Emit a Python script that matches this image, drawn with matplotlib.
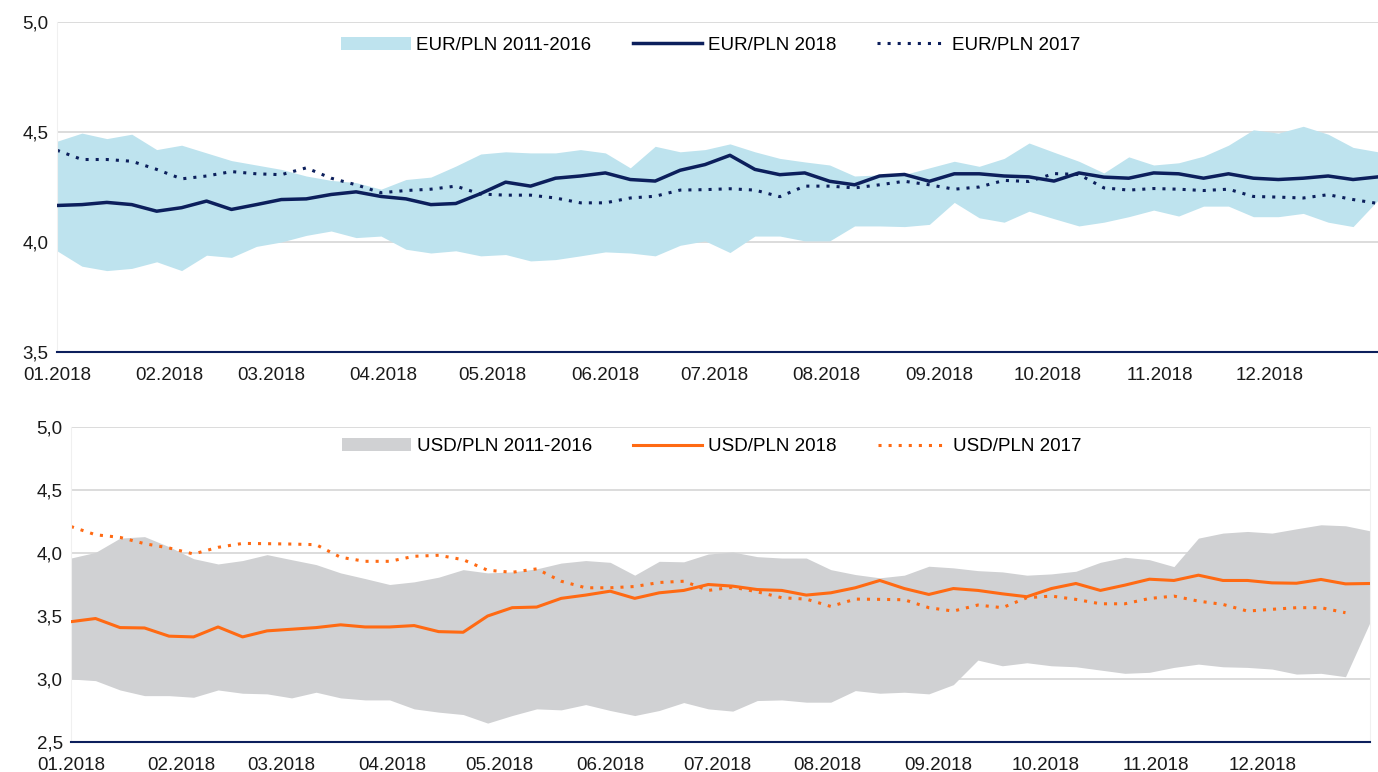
import numpy as np
import pandas as pd
import matplotlib
matplotlib.use("Agg")
import matplotlib.pyplot as plt
import matplotlib.dates as mdates
from matplotlib.ticker import FuncFormatter, MultipleLocator

plt.rcParams['font.family'] = ['Liberation Sans', 'DejaVu Sans']

# odczyty z wykresu, 54 punkty rownomiernie w roku 2018
eur_upper = [4.458, 4.495, 4.47, 4.49, 4.42, 4.44, 4.405, 4.37, 4.35, 4.33, 4.30, 4.28,
             4.27, 4.24, 4.284, 4.295, 4.345, 4.40, 4.41, 4.405, 4.405, 4.42, 4.405, 4.337, 4.435, 4.41,
             4.42, 4.446, 4.41, 4.38, 4.364, 4.35, 4.30, 4.305, 4.307, 4.337, 4.367, 4.344, 4.38, 4.45,
             4.408, 4.367, 4.314, 4.387, 4.35, 4.36, 4.39, 4.44, 4.51, 4.495, 4.526, 4.49, 4.43, 4.41]
eur_lower = [3.96, 3.89, 3.87, 3.88, 3.91, 3.87, 3.94, 3.93, 3.98, 4.00, 4.03, 4.05,
             4.02, 4.027, 3.967, 3.95, 3.96, 3.937, 3.943, 3.914, 3.92, 3.937, 3.955, 3.95, 3.937, 3.985,
             4.005, 3.952, 4.027, 4.027, 4.005, 4.005, 4.073, 4.073, 4.07, 4.08, 4.18, 4.11, 4.09, 4.14,
             4.106, 4.073, 4.09, 4.115, 4.145, 4.118, 4.163, 4.163, 4.115, 4.115, 4.13, 4.09, 4.07, 4.19]
eur_2018 = [4.166, 4.17, 4.18, 4.17, 4.14, 4.156, 4.186, 4.148, 4.17, 4.193, 4.196, 4.216,
            4.228, 4.207, 4.196, 4.17, 4.175, 4.22, 4.272, 4.254, 4.29, 4.30, 4.314, 4.284, 4.277, 4.326,
            4.352, 4.394, 4.33, 4.306, 4.314, 4.276, 4.26, 4.30, 4.307, 4.276, 4.31, 4.31, 4.30, 4.296,
            4.277, 4.314, 4.295, 4.29, 4.314, 4.31, 4.29, 4.31, 4.29, 4.284, 4.29, 4.30, 4.284, 4.296]
eur_2017 = [4.417, 4.375, 4.375, 4.367, 4.33, 4.287, 4.30, 4.32, 4.31, 4.306, 4.337, 4.29,
            4.26, 4.224, 4.234, 4.24, 4.254, 4.218, 4.213, 4.213, 4.20, 4.178, 4.178, 4.20, 4.208, 4.236,
            4.238, 4.242, 4.236, 4.206, 4.254, 4.254, 4.246, 4.26, 4.276, 4.26, 4.24, 4.25, 4.28, 4.275,
            4.311, 4.307, 4.246, 4.236, 4.243, 4.24, 4.234, 4.24, 4.207, 4.204, 4.20, 4.215, 4.193, 4.175]

usd_upper = [3.96, 4.005, 4.118, 4.13, 4.05, 3.955, 3.913, 3.94, 3.987, 3.947, 3.908, 3.842,
             3.797, 3.75, 3.771, 3.808, 3.868, 3.842, 3.85, 3.874, 3.92, 3.94, 3.926, 3.824, 3.934, 3.93,
             3.992, 4.008, 3.971, 3.96, 3.96, 3.868, 3.829, 3.803, 3.824, 3.895, 3.882, 3.86, 3.85, 3.824,
             3.834, 3.855, 3.926, 3.966, 3.947, 3.892, 4.118, 4.158, 4.171, 4.158, 4.192, 4.224, 4.216, 4.176]
usd_lower = [3.0, 2.987, 2.913, 2.868, 2.868, 2.855, 2.913, 2.887, 2.882, 2.85, 2.895, 2.85,
             2.834, 2.834, 2.763, 2.737, 2.718, 2.65, 2.71, 2.763, 2.755, 2.797, 2.75, 2.71, 2.75, 2.813,
             2.763, 2.745, 2.829, 2.834, 2.816, 2.816, 2.908, 2.887, 2.895, 2.882, 2.955, 3.15, 3.105, 3.129,
             3.105, 3.097, 3.071, 3.045, 3.053, 3.092, 3.118, 3.097, 3.092, 3.079, 3.039, 3.045, 3.018, 3.45]
usd_2018 = [3.455, 3.48, 3.408, 3.405, 3.34, 3.334, 3.413, 3.334, 3.382, 3.395, 3.408, 3.43,
            3.413, 3.413, 3.424, 3.376, 3.371, 3.50, 3.566, 3.571, 3.64, 3.666, 3.697, 3.64, 3.684, 3.703,
            3.75, 3.737, 3.71, 3.703, 3.666, 3.684, 3.724, 3.782, 3.718, 3.671, 3.718, 3.703, 3.676, 3.653,
            3.718, 3.758, 3.703, 3.745, 3.792, 3.782, 3.824, 3.782, 3.782, 3.763, 3.76, 3.79, 3.755, 3.758]
usd_2017 = [4.21, 4.145, 4.124, 4.074, 4.04, 3.992, 4.045, 4.076, 4.074, 4.071, 4.066, 3.966,
            3.934, 3.934, 3.974, 3.982, 3.947, 3.863, 3.847, 3.874, 3.776, 3.724, 3.724, 3.734, 3.766, 3.776,
            3.703, 3.729, 3.692, 3.645, 3.634, 3.576, 3.634, 3.632, 3.629, 3.566, 3.539, 3.587, 3.566, 3.645,
            3.658, 3.632, 3.597, 3.597, 3.639, 3.658, 3.618, 3.592, 3.539, 3.553, 3.566, 3.566, 3.526, np.nan]

dates = pd.date_range('2018-01-01', '2018-12-31', periods=len(eur_2018))

NAVY = '#0c1f5c'
ORANGE = '#ff6a13'
LIGHTBLUE = '#bee3ee'
GREY = '#d0d1d3'
GRID = '#d9d9d9'
FS = 13.5

fig = plt.figure(figsize=(13.78, 7.72), dpi=100)
ax1 = fig.add_axes([57/1378, 1-352/772, 1321/1378, 330/772])
ax2 = fig.add_axes([71/1378, 1-742/772, 1299/1378, 315/772])


def style(ax, lo, hi):
    ax.set_ylim(lo, hi)
    ax.set_xlim(pd.Timestamp('2018-01-01'), pd.Timestamp('2018-12-31'))
    ax.yaxis.set_major_locator(MultipleLocator(0.5))
    ax.yaxis.set_major_formatter(FuncFormatter(lambda v, p: f"{v:.1f}".replace('.', ',')))
    ax.xaxis.set_major_locator(mdates.MonthLocator())
    ax.xaxis.set_major_formatter(mdates.DateFormatter('%m.%Y'))
    ax.grid(axis='y', color=GRID, lw=1.3, zorder=0)
    ax.set_axisbelow(True)
    ax.tick_params(axis='x', length=0, pad=11, labelsize=FS, colors='#1a1a1a')
    ax.tick_params(axis='y', length=0, pad=6, labelsize=FS, colors='#1a1a1a')
    for s in ['top', 'right']:
        ax.spines[s].set_visible(False)
    ax.spines['left'].set_color('#f0f0f0')
    ax.spines['bottom'].set_color(NAVY)
    ax.spines['bottom'].set_linewidth(1.5)
    ax.spines['bottom'].set_zorder(5)


# EUR/PLN
ax1.fill_between(dates, eur_lower, eur_upper, color=LIGHTBLUE, lw=0, label='EUR/PLN 2011-2016', zorder=1)
ax1.plot(dates, eur_2018, color=NAVY, lw=2.5, label='EUR/PLN 2018', zorder=3)
ax1.plot(dates, eur_2017, color=NAVY, lw=2.2, ls=(0, (1, 2.3)), label='EUR/PLN 2017', zorder=2)
style(ax1, 3.5, 5.0)
ax1.legend(loc='center', bbox_to_anchor=(0.495, 0.93), ncol=3, frameon=False, fontsize=FS,
           handlelength=3.7, handletextpad=0.3, columnspacing=2.2)

# USD/PLN
ax2.fill_between(dates, usd_lower, usd_upper, color=GREY, lw=0, label='USD/PLN 2011-2016', zorder=1)
ax2.plot(dates, usd_2018, color=ORANGE, lw=2.2, label='USD/PLN 2018', zorder=3)
ax2.plot(dates, usd_2017, color=ORANGE, lw=2.2, ls=(0, (1, 2.3)), label='USD/PLN 2017', zorder=2)
style(ax2, 2.5, 5.0)
ax2.spines['right'].set_visible(True)
ax2.spines['right'].set_color('#f0f0f0')
ax2.legend(loc='center', bbox_to_anchor=(0.493, 0.937), ncol=3, frameon=False, fontsize=FS,
           handlelength=3.7, handletextpad=0.3, columnspacing=2.2)

plt.savefig('out.png', dpi=100)
